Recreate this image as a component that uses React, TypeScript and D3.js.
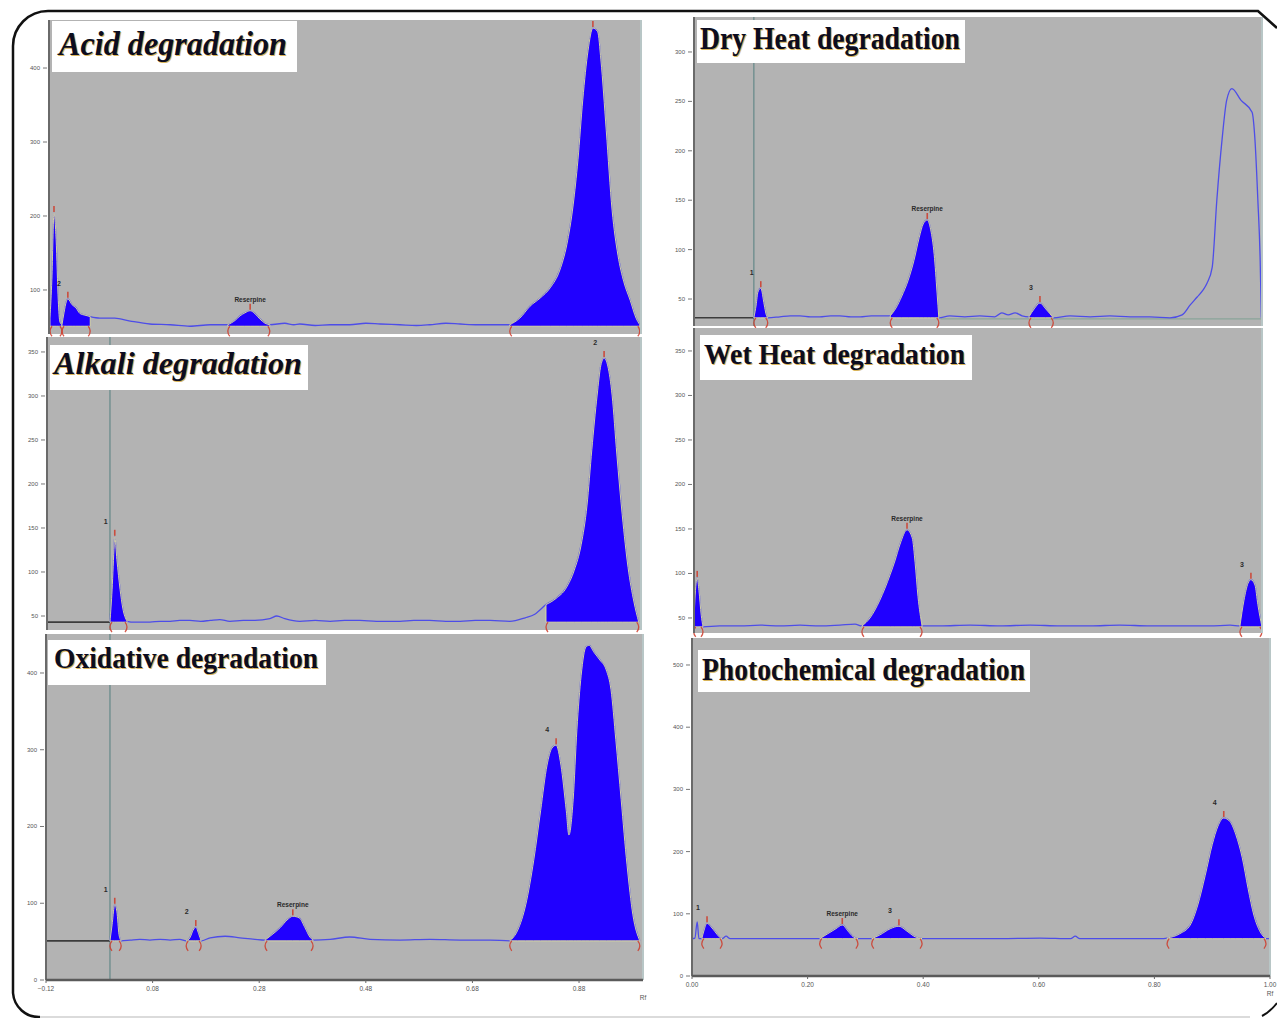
import { useEffect, useRef } from "react";
import * as d3 from "d3";

// ---- densitogram traces, [Rf, AU] ----
const acidTrace = [
  [-0.116, 51], [-0.1125, 62], [-0.109, 114], [-0.105, 204], [-0.101, 168], [-0.097, 86], [-0.094, 57],
  [-0.09, 53], [-0.086, 70], [-0.082, 84], [-0.079, 88], [-0.071, 80], [-0.064, 76], [-0.056, 68],
  [-0.047, 66], [-0.037, 64], [-0.019, 62], [0.009, 62], [0.038, 58], [0.075, 54], [0.113, 53],
  [0.15, 51], [0.188, 53], [0.221, 53], [0.235, 59], [0.244, 65], [0.253, 69], [0.263, 72],
  [0.272, 68], [0.281, 61], [0.291, 55], [0.3, 53], [0.328, 55], [0.345, 53], [0.356, 54],
  [0.385, 52], [0.413, 53], [0.45, 53], [0.48, 55], [0.507, 54], [0.544, 53], [0.575, 52],
  [0.6, 53], [0.63, 55], [0.657, 54], [0.69, 53], [0.713, 53], [0.75, 53], [0.769, 62],
  [0.788, 78], [0.807, 89], [0.826, 103], [0.844, 127], [0.857, 161], [0.869, 215], [0.878, 276],
  [0.887, 357], [0.897, 424], [0.906, 454], [0.915, 449], [0.921, 411], [0.931, 316], [0.942, 208],
  [0.953, 147], [0.964, 111], [0.976, 86], [0.987, 62], [0.994, 53],
];
const acidPeaks = [
  { start: -0.1125, apex: -0.105, end: -0.09, label: "" },
  { start: -0.09, apex: -0.079, end: -0.037, label: "2" },
  { start: 0.221, apex: 0.263, end: 0.3, label: "Reserpine" },
  { start: 0.75, apex: 0.906, end: 0.994, label: "" },
];

const alkaliTrace = [
  [0, 43], [0.004, 80], [0.008, 131], [0.009, 140], [0.013, 114], [0.019, 80], [0.024, 59],
  [0.032, 44], [0.047, 43], [0.075, 43], [0.094, 44], [0.113, 44], [0.131, 45], [0.15, 45],
  [0.17, 44], [0.188, 45], [0.206, 46], [0.225, 44], [0.25, 45], [0.272, 45], [0.3, 47],
  [0.313, 50], [0.328, 47], [0.356, 44], [0.385, 45], [0.413, 44], [0.44, 45], [0.469, 45],
  [0.5, 44], [0.544, 44], [0.57, 45], [0.6, 45], [0.63, 44], [0.657, 44], [0.685, 45],
  [0.713, 45], [0.75, 44], [0.779, 48], [0.797, 52], [0.818, 63], [0.837, 70], [0.856, 82],
  [0.871, 102], [0.884, 131], [0.895, 176], [0.904, 239], [0.914, 301], [0.921, 335], [0.927, 343],
  [0.934, 334], [0.942, 301], [0.951, 233], [0.961, 165], [0.972, 105], [0.983, 66], [0.992, 43],
];
const alkaliPeaks = [
  { start: 0, apex: 0.009, end: 0.032, label: "1" },
  { start: 0.818, apex: 0.927, end: 0.992, label: "2" },
];

const oxidTrace = [
  [0, 51], [0.004, 72], [0.008, 96], [0.009, 98], [0.013, 89], [0.017, 59], [0.021, 51],
  [0.038, 52], [0.056, 53], [0.075, 52], [0.094, 53], [0.113, 52], [0.131, 53], [0.143, 51],
  [0.15, 55], [0.156, 65], [0.161, 69], [0.167, 59], [0.171, 51], [0.188, 55], [0.216, 57],
  [0.244, 55], [0.272, 53], [0.291, 52], [0.304, 59], [0.319, 68], [0.332, 78], [0.343, 83],
  [0.355, 81], [0.366, 68], [0.375, 56], [0.381, 52], [0.413, 53], [0.45, 56], [0.488, 53],
  [0.544, 52], [0.6, 53], [0.657, 52], [0.713, 52], [0.75, 51], [0.765, 65], [0.78, 98],
  [0.795, 156], [0.808, 221], [0.82, 280], [0.829, 302], [0.837, 306], [0.846, 280], [0.856, 221],
  [0.861, 189], [0.869, 235], [0.876, 326], [0.884, 397], [0.893, 434], [0.899, 436], [0.908, 427],
  [0.919, 417], [0.931, 404], [0.94, 378], [0.949, 313], [0.959, 235], [0.97, 150], [0.981, 85],
  [0.994, 51],
];
const oxidPeaks = [
  { start: 0, apex: 0.009, end: 0.021, label: "1" },
  { start: 0.143, apex: 0.161, end: 0.171, label: "2" },
  { start: 0.291, apex: 0.343, end: 0.381, label: "Reserpine" },
  { start: 0.75, apex: 0.837, end: 0.994, label: "4" },
];

const dryTrace = [
  [0.107, 31], [0.111, 44], [0.114, 57], [0.119, 61], [0.125, 44], [0.128, 35], [0.131, 31],
  [0.152, 32], [0.17, 33], [0.187, 33], [0.205, 32], [0.221, 32], [0.24, 33], [0.256, 33],
  [0.275, 32], [0.291, 32], [0.31, 33], [0.325, 33], [0.343, 33], [0.353, 41], [0.363, 53],
  [0.374, 69], [0.384, 89], [0.393, 112], [0.4, 126], [0.407, 130], [0.413, 120], [0.419, 95],
  [0.424, 56], [0.427, 31], [0.446, 33], [0.472, 32], [0.498, 33], [0.524, 32], [0.536, 36],
  [0.547, 34], [0.559, 36], [0.571, 33], [0.583, 32], [0.592, 40], [0.602, 46], [0.612, 40],
  [0.625, 31], [0.654, 33], [0.689, 32], [0.723, 33], [0.758, 32], [0.792, 32], [0.827, 31],
  [0.848, 34], [0.862, 44], [0.874, 52], [0.884, 59], [0.891, 66], [0.9, 82], [0.908, 150],
  [0.917, 211], [0.925, 251], [0.934, 263], [0.95, 251], [0.969, 239], [0.974, 211], [0.979, 150],
  [0.983, 89], [0.985, 31],
];
const dryPeaks = [
  { start: 0.107, apex: 0.119, end: 0.131, label: "1" },
  { start: 0.343, apex: 0.407, end: 0.427, label: "Reserpine" },
  { start: 0.583, apex: 0.602, end: 0.625, label: "3" },
];

const wetTrace = [
  [0.003, 40], [0.005, 70], [0.009, 95], [0.012, 81], [0.016, 53], [0.019, 40], [0.048, 41],
  [0.083, 41], [0.118, 42], [0.152, 41], [0.187, 42], [0.221, 41], [0.256, 42], [0.282, 43],
  [0.294, 41], [0.308, 50], [0.325, 70], [0.343, 99], [0.351, 114], [0.36, 133], [0.372, 149],
  [0.381, 140], [0.386, 112], [0.391, 74], [0.398, 41], [0.429, 41], [0.481, 42], [0.533, 41],
  [0.585, 42], [0.637, 41], [0.689, 41], [0.74, 42], [0.792, 41], [0.844, 41], [0.896, 41],
  [0.931, 42], [0.948, 41], [0.955, 70], [0.962, 89], [0.967, 93], [0.974, 87], [0.979, 65],
  [0.986, 40],
];
const wetPeaks = [
  { start: 0.003, apex: 0.009, end: 0.019, label: "" },
  { start: 0.294, apex: 0.372, end: 0.398, label: "Reserpine" },
  { start: 0.948, apex: 0.967, end: 0.986, label: "3" },
];

const photoTrace = [
  [0, 60], [0.005, 61], [0.009, 87], [0.012, 60], [0.017, 60], [0.021, 74], [0.026, 85],
  [0.033, 79], [0.04, 71], [0.047, 63], [0.052, 60], [0.059, 64], [0.066, 60], [0.118, 60],
  [0.17, 60], [0.221, 60], [0.235, 68], [0.249, 76], [0.26, 82], [0.27, 72], [0.279, 63],
  [0.287, 60], [0.299, 60], [0.311, 60], [0.325, 66], [0.343, 76], [0.358, 80], [0.372, 72],
  [0.386, 63], [0.398, 60], [0.464, 60], [0.533, 60], [0.602, 61], [0.655, 60], [0.663, 64],
  [0.671, 60], [0.74, 60], [0.81, 60], [0.822, 61], [0.844, 68], [0.862, 82], [0.875, 114],
  [0.888, 162], [0.9, 211], [0.91, 241], [0.92, 254], [0.931, 248], [0.941, 227], [0.952, 190],
  [0.962, 141], [0.972, 98], [0.983, 71], [0.993, 60], [1.0, 60],
];
const photoPeaks = [
  { start: 0.017, apex: 0.026, end: 0.052, label: "1" },
  { start: 0.221, apex: 0.26, end: 0.287, label: "Reserpine" },
  { start: 0.311, apex: 0.358, end: 0.398, label: "3" },
  { start: 0.822, apex: 0.92, end: 0.993, label: "4" },
];

// axis ticks
const acidTicks = [100, 200, 300, 400];
const alkaliTicks = [50, 100, 150, 200, 250, 300, 350];
const oxidTicks = [0, 100, 200, 300, 400];
const dryTicks = [50, 100, 150, 200, 250, 300];
const wetTicks = [50, 100, 150, 200, 250, 300, 350];
const photoTicks = [0, 100, 200, 300, 400, 500];
const leftRfTicks = [-0.12, 0.08, 0.28, 0.48, 0.68, 0.88];
const rightRfTicks = [0, 0.2, 0.4, 0.6, 0.8, 1.0];

// ---- layout (pixels) ----
const LEFT = { xDomain: [-0.12, 1.0], xRange: [46, 643] };
const RIGHT = { xDomain: [0, 1.0], xRange: [692, 1270] };

const panels = [
  {
    id: "acid", title: "Acid degradation", italic: true, size: 34, len: 228,
    box: [52, 21, 245, 51], tx: 59, ty: 55, frame: [49, 641, 20, 334], ...LEFT,
    yDomain: [40.5, 464.9], base: 51, trace: acidTrace, peaks: acidPeaks, ticks: acidTicks,
  },
  {
    id: "alkali", title: "Alkali degradation", italic: true, size: 32, len: 248,
    box: [50, 345, 258, 45], tx: 54, ty: 374, frame: [47, 641, 337, 630], ...LEFT,
    yDomain: [34.1, 367], base: 43, trace: alkaliTrace, peaks: alkaliPeaks, ticks: alkaliTicks,
    startRf: 0,
  },
  {
    id: "oxid", title: "Oxidative degradation", italic: false, size: 30, len: 264,
    box: [48, 640, 278, 45], tx: 54, ty: 668, frame: [46, 643, 634, 980], ...LEFT,
    yDomain: [0, 450.8], base: 51, trace: oxidTrace, peaks: oxidPeaks, ticks: oxidTicks,
    startRf: 0, xTicks: leftRfTicks,
  },
  {
    id: "dry", title: "Dry Heat degradation", italic: false, size: 31, len: 260,
    box: [697, 20, 268, 43], tx: 700, ty: 49, frame: [694, 1262, 17, 326], ...RIGHT,
    yDomain: [22.7, 335.4], base: 31, trace: dryTrace, peaks: dryPeaks, ticks: dryTicks,
    startRf: 0.107,
  },
  {
    id: "wet", title: "Wet Heat degradation", italic: false, size: 29, len: 261,
    box: [700, 335, 272, 45], tx: 704, ty: 364, frame: [694, 1262, 328, 633], ...RIGHT,
    yDomain: [33.1, 375.8], base: 40, trace: wetTrace, peaks: wetPeaks, ticks: wetTicks,
  },
  {
    id: "photo", title: "Photochemical degradation", italic: false, size: 31, len: 323,
    box: [698, 650, 332, 42], tx: 702, ty: 680, frame: [692, 1270, 638, 976], ...RIGHT,
    yDomain: [0, 543.4], base: 60, trace: photoTrace, peaks: photoPeaks, ticks: photoTicks,
    xTicks: rightRfTicks,
  },
];

const GRAY = "#b3b3b3";
const FILL = "#2000ff";
const TRACE = "#4d4de8";
const RED = "#cf3b2a";
const SANS = "'Liberation Sans', Arial, sans-serif";
const SERIF = "'Liberation Serif', 'Times New Roman', serif";

function valueAt(trace, rf) {
  const i = d3.bisector((d) => d[0]).right(trace, rf);
  if (i <= 0) return trace[0][1];
  if (i >= trace.length) return trace[trace.length - 1][1];
  const a = trace[i - 1];
  const b = trace[i];
  const t = (rf - a[0]) / (b[0] - a[0] || 1);
  return a[1] + t * (b[1] - a[1]);
}

function drawPanel(svg, p) {
  const [fx0, fx1, fy0, fy1] = p.frame;
  const x = d3.scaleLinear().domain(p.xDomain).range(p.xRange);
  const y = d3.scaleLinear().domain(p.yDomain).range([fy1, fy0]);
  const g = svg.append("g");

  const clipId = `clip-${p.id}`;
  g.append("clipPath").attr("id", clipId)
    .append("rect").attr("x", fx0).attr("y", fy0).attr("width", fx1 - fx0).attr("height", fy1 - fy0);

  g.append("rect")
    .attr("x", fx0).attr("y", fy0).attr("width", fx1 - fx0).attr("height", fy1 - fy0)
    .attr("fill", GRAY);

  const plot = g.append("g").attr("clip-path", `url(#${clipId})`);
  const yb = y(p.base);

  // application start line + dark baseline stub
  if (p.startRf != null) {
    plot.append("line")
      .attr("x1", x(p.startRf)).attr("x2", x(p.startRf)).attr("y1", fy0).attr("y2", fy1)
      .attr("stroke", "#6a8c8c").attr("stroke-width", 1.3);
    plot.append("line")
      .attr("x1", fx0).attr("x2", x(p.startRf)).attr("y1", yb).attr("y2", yb)
      .attr("stroke", "#3c3c3c").attr("stroke-width", 1.6);
  }
  if (p.id === "dry") {
    plot.append("line")
      .attr("x1", x(0.43)).attr("x2", fx1).attr("y1", yb + 1).attr("y2", yb + 1)
      .attr("stroke", "#8aa59a").attr("stroke-width", 1.2);
  }

  const line = d3.line().x((d) => x(d[0])).y((d) => y(d[1])).curve(d3.curveMonotoneX);
  plot.append("path").datum(p.trace).attr("d", line)
    .attr("fill", "none").attr("stroke", TRACE).attr("stroke-width", 1.3);

  const area = d3.area().x((d) => x(d[0])).y0(yb).y1((d) => y(d[1])).curve(d3.curveMonotoneX);

  p.peaks.forEach((pk) => {
    const pts = [
      [pk.start, valueAt(p.trace, pk.start)],
      ...p.trace.filter((d) => d[0] > pk.start && d[0] < pk.end),
      [pk.end, valueAt(p.trace, pk.end)],
    ];
    plot.append("path").datum(pts).attr("d", area)
      .attr("fill", FILL).attr("stroke", "#e2e29c").attr("stroke-width", 0.9);
  });

  // peak markers: brackets, apex tick, label
  p.peaks.forEach((pk) => {
    const xs = x(pk.start);
    const xe = x(pk.end);
    const xa = x(pk.apex);
    const ya = y(valueAt(p.trace, pk.apex));
    g.append("path")
      .attr("d", `M${xs + 2},${yb} Q${xs - 2},${yb + 5} ${xs + 2},${yb + 10}`)
      .attr("fill", "none").attr("stroke", RED).attr("stroke-width", 1.3).attr("opacity", 0.85);
    g.append("path")
      .attr("d", `M${xe - 2},${yb} Q${xe + 2},${yb + 5} ${xe - 2},${yb + 10}`)
      .attr("fill", "none").attr("stroke", RED).attr("stroke-width", 1.3).attr("opacity", 0.85);
    g.append("line")
      .attr("x1", xa).attr("x2", xa).attr("y1", ya - 7).attr("y2", ya - 1)
      .attr("stroke", RED).attr("stroke-width", 1.6).attr("opacity", 0.85);
    if (pk.label) {
      const isNum = pk.label.length === 1;
      g.append("text")
        .attr("x", isNum ? xa - 9 : xa)
        .attr("y", isNum ? ya - 13 : ya - 9)
        .attr("text-anchor", "middle")
        .attr("font-family", SANS)
        .attr("font-size", isNum ? 7 : 6.5)
        .attr("font-weight", "bold")
        .attr("fill", "#2a2a2a")
        .text(pk.label);
    }
  });

  // y axis
  g.append("line").attr("x1", fx0).attr("x2", fx0).attr("y1", fy0).attr("y2", fy1)
    .attr("stroke", "#6a6a6a").attr("stroke-width", 2);
  g.append("line").attr("x1", fx1).attr("x2", fx1).attr("y1", fy0).attr("y2", fy1)
    .attr("stroke", "#b8c6c6").attr("stroke-width", 2);
  p.ticks.forEach((v) => {
    g.append("line").attr("x1", fx0 - 6).attr("x2", fx0 - 2).attr("y1", y(v)).attr("y2", y(v))
      .attr("stroke", "#777").attr("stroke-width", 1);
    g.append("text")
      .attr("x", fx0 - 9).attr("y", y(v) + 2)
      .attr("text-anchor", "end").attr("font-family", SANS).attr("font-size", 6)
      .attr("fill", "#555").text(v);
  });

  // Rf axis
  if (p.xTicks) {
    g.append("line").attr("x1", fx0).attr("x2", fx1).attr("y1", fy1).attr("y2", fy1)
      .attr("stroke", "#5a5a5a").attr("stroke-width", 2.5);
    p.xTicks.forEach((v) => {
      g.append("line").attr("x1", x(v)).attr("x2", x(v)).attr("y1", fy1).attr("y2", fy1 + 3)
        .attr("stroke", "#666").attr("stroke-width", 1);
      g.append("text")
        .attr("x", x(v)).attr("y", fy1 + 11)
        .attr("text-anchor", "middle").attr("font-family", SANS).attr("font-size", 6.5)
        .attr("fill", "#555").text(d3.format(".2f")(v));
    });
    g.append("text")
      .attr("x", fx1).attr("y", fy1 + 20)
      .attr("text-anchor", "middle").attr("font-family", SANS).attr("font-size", 6.5)
      .attr("fill", "#555").text("Rf");
  }

  // title box
  const [bx, by, bw, bh] = p.box;
  g.append("rect").attr("x", bx).attr("y", by).attr("width", bw).attr("height", bh).attr("fill", "#fff");
  [["#d8b45c", 1], ["#0c0c20", 0]].forEach(([c, off]) => {
    g.append("text")
      .attr("x", p.tx + off).attr("y", p.ty + off)
      .attr("font-family", SERIF).attr("font-weight", "bold")
      .attr("font-style", p.italic ? "italic" : "normal")
      .attr("font-size", p.size)
      .attr("textLength", p.len).attr("lengthAdjust", "spacingAndGlyphs")
      .attr("fill", c).text(p.title);
  });
}

export default function App() {
  const svgRef = useRef(null);

  useEffect(() => {
    const svg = d3.select(svgRef.current);
    svg.selectAll("*").remove();

    svg.append("rect").attr("width", 1277).attr("height", 1018).attr("fill", "#fff");

    panels.forEach((p) => drawPanel(svg, p));

    // rounded outer frame
    svg.append("path")
      .attr("d", "M13,993 L13,46 A35,35 0 0 1 48,11 L1258,11 L1277,28")
      .attr("fill", "none").attr("stroke", "#111").attr("stroke-width", 2.5);
    svg.append("path")
      .attr("d", "M13,993 A26,26 0 0 0 40,1017")
      .attr("fill", "none").attr("stroke", "#111").attr("stroke-width", 2.5);
    svg.append("path")
      .attr("d", "M40,1017 L1250,1017")
      .attr("fill", "none").attr("stroke", "#cfcfcf").attr("stroke-width", 1.5);
    svg.append("path")
      .attr("d", "M1262,1016 Q1270,1012 1277,1003")
      .attr("fill", "none").attr("stroke", "#111").attr("stroke-width", 2);
  }, []);

  return (
    <svg
      ref={svgRef}
      width={1277}
      height={1018}
      style={{ position: "absolute", left: 0, top: 0, display: "block" }}
    />
  );
}
